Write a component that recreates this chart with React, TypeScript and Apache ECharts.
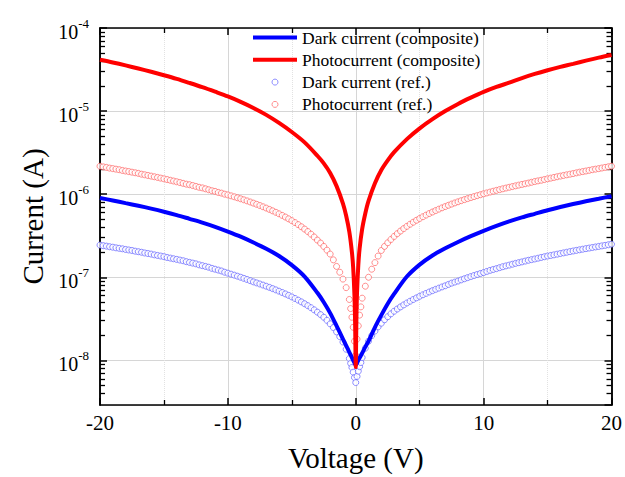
import React, { useEffect, useRef } from "react";
import * as echarts from "echarts";

const FONT = "'Liberation Serif', 'Times New Roman', serif";

// Composite curves (solid lines), current in A
const voltageLine = [
  -20, -19, -18, -17, -16, -15, -14, -13, -12, -11, -10, -9, -8, -7, -6, -5, -4, -3, -2.5, -2, -1.5, -1, -0.75, -0.5,
  -0.3, -0.2, -0.1, -0.05, 0, 0.05, 0.1, 0.2, 0.3, 0.5, 0.75, 1, 1.5, 2, 2.5, 3, 4, 5, 6, 7, 8, 9, 10, 11, 12, 13, 14,
  15, 16, 17, 18, 19, 20,
];
const darkComposite = [
  9.0e-7, 8.4e-7, 7.8e-7, 7.25e-7, 6.7e-7, 6.15e-7, 5.6e-7, 5.05e-7, 4.55e-7, 4.05e-7, 3.55e-7, 3.08e-7, 2.62e-7,
  2.2e-7, 1.8e-7, 1.4e-7, 1.02e-7, 6.5e-8, 5.0e-8, 3.7e-8, 2.6e-8, 1.8e-8, 1.5e-8, 1.25e-8, 1.08e-8, 1.0e-8, 9.3e-9,
  9.0e-9, 8.8e-9, 9.0e-9, 9.3e-9, 1.0e-8, 1.07e-8, 1.22e-8, 1.45e-8, 1.7e-8, 2.5e-8, 3.5e-8, 4.8e-8, 6.3e-8, 1.02e-7,
  1.42e-7, 1.83e-7, 2.23e-7, 2.66e-7, 3.12e-7, 3.62e-7, 4.15e-7, 4.7e-7, 5.25e-7, 5.8e-7, 6.4e-7, 7.0e-7, 7.6e-7,
  8.2e-7, 8.8e-7, 9.46e-7,
];
const photoComposite = [
  4.14e-5, 3.85e-5, 3.55e-5, 3.25e-5, 2.97e-5, 2.7e-5, 2.44e-5, 2.18e-5, 1.94e-5, 1.71e-5, 1.5e-5, 1.29e-5, 1.09e-5,
  9.0e-6, 7.2e-6, 5.6e-6, 4.2e-6, 2.9e-6, 2.35e-6, 1.8e-6, 1.25e-6, 7.7e-7, 5.5e-7, 3.5e-7, 2.0e-7, 1.3e-7, 6.0e-8,
  2.8e-8, 8.3e-9, 3.0e-8, 6.5e-8, 1.4e-7, 2.2e-7, 3.8e-7, 5.9e-7, 8.3e-7, 1.35e-6, 1.95e-6, 2.55e-6, 3.2e-6, 4.6e-6,
  6.2e-6, 8.0e-6, 1.0e-5, 1.22e-5, 1.45e-5, 1.7e-5, 1.95e-5, 2.2e-5, 2.5e-5, 2.8e-5, 3.1e-5, 3.4e-5, 3.7e-5, 4.05e-5,
  4.4e-5, 4.74e-5,
];

// Reference measurements (open circles), current in nA
const voltageRef = [
  -20, -19.75, -19.5, -19.25, -19, -18.75, -18.5, -18.25, -18, -17.75, -17.5, -17.25, -17, -16.75, -16.5, -16.25, -16,
  -15.75, -15.5, -15.25, -15, -14.75, -14.5, -14.25, -14, -13.75, -13.5, -13.25, -13, -12.75, -12.5, -12.25, -12,
  -11.75, -11.5, -11.25, -11, -10.75, -10.5, -10.25, -10, -9.75, -9.5, -9.25, -9, -8.75, -8.5, -8.25, -8, -7.75, -7.5,
  -7.25, -7, -6.75, -6.5, -6.25, -6, -5.75, -5.5, -5.25, -5, -4.75, -4.5, -4.25, -4, -3.75, -3.5, -3.25, -3, -2.75,
  -2.5, -2.25, -2, -1.75, -1.5, -1.25, -1, -0.75, -0.5,
  -0.4, -0.3, -0.2, -0.1, 0, 0.1, 0.2, 0.3, 0.4,
  0.5, 0.75, 1, 1.25, 1.5, 1.75, 2, 2.25, 2.5, 2.75, 3, 3.25, 3.5, 3.75, 4, 4.25, 4.5, 4.75, 5, 5.25, 5.5, 5.75, 6,
  6.25, 6.5, 6.75, 7, 7.25, 7.5, 7.75, 8, 8.25, 8.5, 8.75, 9, 9.25, 9.5, 9.75, 10, 10.25, 10.5, 10.75, 11, 11.25, 11.5,
  11.75, 12, 12.25, 12.5, 12.75, 13, 13.25, 13.5, 13.75, 14, 14.25, 14.5, 14.75, 15, 15.25, 15.5, 15.75, 16, 16.25,
  16.5, 16.75, 17, 17.25, 17.5, 17.75, 18, 18.25, 18.5, 18.75, 19, 19.25, 19.5, 19.75, 20,
];
const darkRefNA = [
  244, 240, 237, 233, 230, 226, 223, 220, 216, 213, 210, 206, 203, 200, 196, 193, 190, 186, 183, 180, 177, 173, 170,
  167, 164, 161, 158, 154, 151, 148, 145, 141, 138, 135, 132, 128, 125, 122, 119, 115, 112, 109, 106, 103, 100, 97, 94,
  91, 88, 85.5, 83, 80.5, 78, 75.5, 73, 70.5, 68, 65.5, 63, 60.5, 58, 55.5, 53, 50.5, 48, 45.5, 43, 40.5, 38, 35.5, 33,
  30.3, 27.5, 24.8, 22, 19.3, 16.6, 13.6, 10.5,
  9.2, 8.2, 7.2, 6.2, 5.4, 6.4, 7.4, 8.4, 9.4,
  10.8, 14, 17, 19.8, 22.5, 25.3, 28, 30.8, 33.5, 36.3, 39, 41.5, 44, 46.5, 49, 51.5, 54, 56.5, 59, 61.5, 64, 66.5, 69,
  71.5, 74, 76.5, 79, 82, 85, 87.5, 90, 93, 96, 99, 102, 105, 108, 111, 114, 117.5, 121, 124, 127, 130.5, 134, 137,
  140, 143.5, 147, 150, 153, 156.5, 160, 163, 166, 169.5, 173, 176.5, 180, 183, 186, 189.5, 193, 196.5, 200, 203.5,
  207, 210.5, 214, 217.5, 221, 224.5, 228, 231.5, 235, 238.5, 242, 246, 250,
];
const photoRefNA = [
  2170, 2130, 2100, 2060, 2030, 2000, 1970, 1930, 1900, 1870, 1840, 1810, 1780, 1740, 1710, 1680, 1650, 1620, 1590,
  1560, 1530, 1500, 1470, 1440, 1410, 1380, 1350, 1320, 1300, 1270, 1240, 1210, 1190, 1160, 1130, 1100, 1080, 1050,
  1030, 1000, 980, 955, 930, 905, 880, 855, 830, 805, 780, 755, 730, 705, 680, 655, 630, 605, 580, 555, 530, 505, 480,
  455, 430, 405, 380, 355, 330, 305, 280, 258, 235, 212, 190, 162, 135, 115, 95, 75, 54,
  42, 33, 25, 17, 11.5, 18, 26, 35, 44,
  56, 78, 100, 125, 150, 180, 210, 235, 260, 285, 310, 335, 360, 385, 410, 435, 460, 485, 510, 535, 560, 585, 610,
  635, 660, 685, 710, 735, 760, 785, 810, 835, 860, 885, 910, 935, 960, 985, 1010, 1035, 1060, 1085, 1110, 1135, 1160,
  1185, 1210, 1235, 1260, 1285, 1310, 1335, 1360, 1390, 1420, 1445, 1470, 1500, 1530, 1560, 1590, 1620, 1650, 1680,
  1710, 1740, 1770, 1805, 1840, 1870, 1900, 1935, 1970, 2000, 2030, 2065, 2100, 2135, 2170,
];
const NA = 1e-9;

const seriesNames = [
  "Dark current (composite)",
  "Photocurrent (composite)",
  "Dark current (ref.)",
  "Photocurrent (ref.)",
];

const yMin = 2.9e-9;
const yMax = 1e-4;
const yMinorTicks = [
  4e-9, 5e-9, 6e-9, 7e-9, 8e-9, 9e-9,
  2e-8, 3e-8, 4e-8, 5e-8, 6e-8, 7e-8, 8e-8, 9e-8,
  2e-7, 3e-7, 4e-7, 5e-7, 6e-7, 7e-7, 8e-7, 9e-7,
  2e-6, 3e-6, 4e-6, 5e-6, 6e-6, 7e-6, 8e-6, 9e-6,
  2e-5, 3e-5, 4e-5, 5e-5, 6e-5, 7e-5, 8e-5, 9e-5,
];

const BLACK = "#000";

function pairs(xs: number[], ys: number[], scale = 1) {
  return xs.map((x, i) => [x, ys[i] * scale]);
}

function logLabel(v: number) {
  const l = Math.log10(v);
  const e = Math.round(l);
  if (Math.abs(l - e) > 0.01) return "";
  return `{a|10}{b|${e}}`;
}

export default function App() {
  const ref = useRef<HTMLDivElement>(null);

  useEffect(() => {
    if (!ref.current) return;
    const chart = echarts.init(ref.current, undefined, { renderer: "svg" });

    const axisLine = { show: true, onZero: false, lineStyle: { color: BLACK, width: 1.5 } };
    const majorTick = { show: true, inside: true, length: 7, lineStyle: { color: BLACK, width: 1.5 } };
    const minorTickX = { show: true, splitNumber: 2, length: 5, lineStyle: { color: BLACK, width: 1.3 } };
    const makeMinorTickY = () => ({
      show: true,
      inside: true,
      length: 5,
      customValues: yMinorTicks.slice(),
      lineStyle: { color: BLACK, width: 1.3 },
    });

    const option: any = {
      animation: false,
      backgroundColor: "#fff",
      grid: { left: 100, right: 12, top: 28, bottom: 67, containLabel: false },
      legend: {
        orient: "vertical",
        left: 253,
        top: 28,
        padding: 0,
        itemWidth: 44,
        itemHeight: 6,
        itemGap: 3.3,
        selectedMode: false,
        textStyle: { fontFamily: FONT, fontSize: 17.5, color: BLACK, lineHeight: 19 },
        data: [
          { name: seriesNames[0], icon: "path://M0 0H44V4H0Z" },
          { name: seriesNames[1], icon: "path://M0 0H44V4H0Z" },
          { name: seriesNames[2], itemStyle: { borderWidth: 1 } },
          { name: seriesNames[3], itemStyle: { borderWidth: 1 } },
        ],
      },
      xAxis: [
        {
          type: "value",
          position: "bottom",
          min: -20,
          max: 20,
          interval: 10,
          axisLine,
          axisTick: majorTick,
          minorTick: minorTickX,
          axisLabel: { margin: 7, fontFamily: FONT, fontSize: 21, color: BLACK },
          splitLine: { show: true, lineStyle: { color: "#d6d6d6", width: 1 } },
          minorSplitLine: { show: true, lineStyle: { color: "#e2e2e2", width: 1, type: "dotted" } },
          name: "Voltage (V)",
          nameLocation: "middle",
          nameGap: 38,
          nameTextStyle: { fontFamily: FONT, fontSize: 29, color: BLACK },
        },
        {
          type: "value",
          position: "top",
          min: -20,
          max: 20,
          interval: 10,
          axisLine,
          axisTick: majorTick,
          minorTick: minorTickX,
          axisLabel: { show: false },
          splitLine: { show: false },
        },
      ],
      yAxis: [
        {
          type: "log",
          logBase: 10,
          position: "left",
          min: yMin,
          max: yMax,
          axisLine,
          axisTick: majorTick,
          axisLabel: {
            margin: 11,
            showMinLabel: false,
            formatter: logLabel,
            rich: {
              a: { fontFamily: FONT, fontSize: 20, color: BLACK, lineHeight: 22, padding: [8, 0, 0, 0] },
              b: { fontFamily: FONT, fontSize: 13, color: BLACK, lineHeight: 13, verticalAlign: "top" },
            },
          },
          splitLine: { show: true, lineStyle: { color: "#d6d6d6", width: 1 } },
          name: "Current (A)",
          nameLocation: "middle",
          nameGap: 45,
          nameTextStyle: { fontFamily: FONT, fontSize: 29, color: BLACK },
        },
        {
          type: "log",
          logBase: 10,
          position: "left",
          min: yMin,
          max: yMax,
          axisLine,
          axisTick: makeMinorTickY(),
          axisLabel: { show: false },
          splitLine: { show: false },
        },
        {
          type: "log",
          logBase: 10,
          position: "right",
          min: yMin,
          max: yMax,
          axisLine,
          axisTick: majorTick,
          axisLabel: { show: false },
          splitLine: { show: false },
        },
        {
          type: "log",
          logBase: 10,
          position: "right",
          min: yMin,
          max: yMax,
          axisLine,
          axisTick: makeMinorTickY(),
          axisLabel: { show: false },
          splitLine: { show: false },
        },
      ],
      series: [
        {
          name: seriesNames[0],
          type: "line",
          xAxisIndex: 0,
          yAxisIndex: 0,
          data: pairs(voltageLine, darkComposite),
          symbol: "none",
          smooth: 0.3,
          color: "#0000ff",
          lineStyle: { color: "#0000ff", width: 4 },
        },
        {
          name: seriesNames[1],
          type: "line",
          xAxisIndex: 0,
          yAxisIndex: 0,
          data: pairs(voltageLine, photoComposite),
          symbol: "none",
          smooth: 0.3,
          color: "#ff0000",
          lineStyle: { color: "#ff0000", width: 4 },
        },
        {
          name: seriesNames[2],
          type: "scatter",
          xAxisIndex: 0,
          yAxisIndex: 0,
          data: pairs(voltageRef, darkRefNA, NA),
          symbol: "circle",
          symbolSize: 6,
          itemStyle: { color: "#ffffff", borderColor: "rgba(90,90,255,0.85)", borderWidth: 1 },
        },
        {
          name: seriesNames[3],
          type: "scatter",
          xAxisIndex: 0,
          yAxisIndex: 0,
          data: pairs(voltageRef, photoRefNA, NA),
          symbol: "circle",
          symbolSize: 6,
          itemStyle: { color: "#ffffff", borderColor: "rgba(255,90,90,0.85)", borderWidth: 1 },
        },
      ],
    };

    chart.setOption(option);
    return () => chart.dispose();
  }, []);

  return (
    <div
      ref={ref}
      style={{ position: "fixed", left: 0, top: 0, width: 625, height: 477, background: "#fff" }}
    />
  );
}
